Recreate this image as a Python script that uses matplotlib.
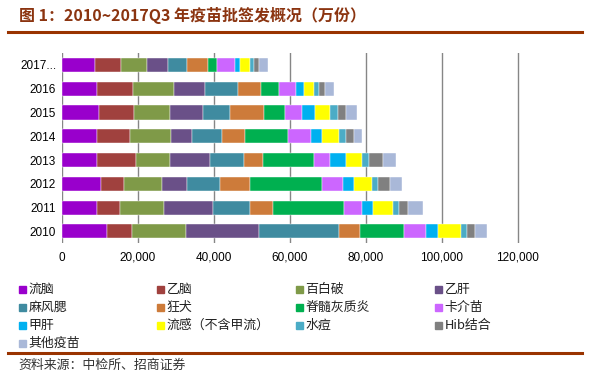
import matplotlib
matplotlib.use("Agg")
import matplotlib.pyplot as plt
from matplotlib.patches import Rectangle
from matplotlib.lines import Line2D
import numpy as np

plt.rcParams['font.family'] = ['Liberation Sans', 'Noto Sans CJK SC', 'DejaVu Sans']

years = ['2010', '2011', '2012', '2013', '2014', '2015', '2016', '2017...']
vaccines = ['流脑', '乙脑', '百白破', '乙肝', '麻风腮', '狂犬', '脊髓灰质炎', '卡介苗',
            '甲肝', '流感（不含甲流）', '水痘', 'Hib结合', '其他疫苗']
colors = ['#9900CC', '#A0413E', '#7F9A48', '#6A5088', '#3F8BA0', '#CD7B3A', '#00B050',
          '#CC66FF', '#00B0F0', '#FFFF00', '#4BACC6', '#808080', '#A9B8D8']

# values per vaccine, one per year 2010..2017Q3 (万份)
liunao   = [12000, 9211, 10263, 9368, 9368, 9737, 9211, 8842]
yinao    = [6500, 6052, 6053, 10185, 8606, 9289, 9552, 6684]
baibaipo = [14132, 11579, 10000, 9026, 10789, 9395, 10711, 6842]
yigan    = [19368, 13053, 6737, 10368, 5448, 8763, 8315, 5685]
mafengsai = [20895, 9737, 8526, 9106, 7894, 7184, 8606, 4842]
kuangquan = [5526, 5894, 8053, 4842, 6053, 8948, 5973, 5526]
jisui    = [11579, 18763, 18868, 13579, 11395, 5526, 4737, 2368]
kajie    = [5868, 4658, 5526, 4210, 6131, 4474, 4474, 4895]
jiagan   = [3079, 3053, 2895, 4053, 2816, 3263, 2263, 1237]
liugan   = [6132, 5263, 4737, 4289, 4553, 3947, 2553, 2632]
shuidou  = [1500, 1500, 1500, 1842, 1684, 2185, 1316, 1052]
hib      = [2184, 2369, 3237, 3685, 2184, 2105, 1578, 1316]
qita     = [3079, 4026, 3158, 3500, 2105, 2816, 2369, 2290]

series = [liunao, yinao, baibaipo, yigan, mafengsai, kuangquan, jisui, kajie,
          jiagan, liugan, shuidou, hib, qita]

fig = plt.figure(figsize=(5.9, 3.75), dpi=100)
W, H = 590, 375
ax = fig.add_axes([61.7 / W, 1 - 243.2 / H, (555.7 - 61.7) / W, (243.2 - 53.1) / H])

y = np.arange(len(years))
left = np.zeros(len(years))
for vals, c, name in zip(series, colors, vaccines):
    ax.barh(y, vals, left=left, height=0.59, color=c, edgecolor='white',
            linewidth=0.3, label=name, zorder=3)
    left += np.array(vals)

ax.set_xlim(0, 130000)
ax.set_ylim(-0.5, len(years) - 0.5)
ax.set_yticks(y)
ax.set_yticklabels(years, fontsize=8.5)
ax.set_xticks(np.arange(0, 120001, 20000))
ax.set_xticklabels([f'{v:,}' for v in range(0, 120001, 20000)], fontsize=8.5)
ax.xaxis.grid(True, color='#868686', linewidth=1, zorder=0)
for s in ax.spines.values():
    s.set_visible(False)
ax.tick_params(axis='both', length=0, pad=6)
ax.tick_params(axis='y', pad=4)

# title and rules
brown = '#993300'
fig.text(19 / W, 1 - 16 / H, '图 1：2010~2017Q3 年疫苗批签发概况（万份）', fontsize=11.5,
         fontweight='bold', color='#8B3410', va='center', ha='left',
         family=['Noto Sans CJK SC', 'DejaVu Sans'])
fig.add_artist(Line2D([8 / W, 582 / W], [1 - 32 / H, 1 - 32 / H], color=brown, linewidth=2.2))
fig.add_artist(Line2D([8 / W, 582 / W], [1 - 353 / H, 1 - 353 / H], color=brown, linewidth=2.2))
fig.text(18 / W, 1 - 365 / H, '资料来源：中检所、招商证券', fontsize=9.3, color='#333333',
         va='center', ha='left', family=['Noto Sans CJK SC', 'DejaVu Sans'])

# legend, row-wise, 4 columns
col_x = [19, 157, 296, 435]
row_y = [289, 307, 325, 343]
for i, (name, c) in enumerate(zip(vaccines, colors)):
    r, k = divmod(i, 4)
    x0, y0 = col_x[k], row_y[r]
    fig.add_artist(Rectangle((x0 / W, 1 - (y0 + 3.5) / H), 7 / W, 7 / H, color=c,
                             transform=fig.transFigure))
    fig.text((x0 + 9.5) / W, 1 - y0 / H, name, fontsize=9.3, va='center', ha='left',
             color='#222222', family=['Noto Sans CJK SC', 'DejaVu Sans'])

fig.savefig('out.png', dpi=100)
